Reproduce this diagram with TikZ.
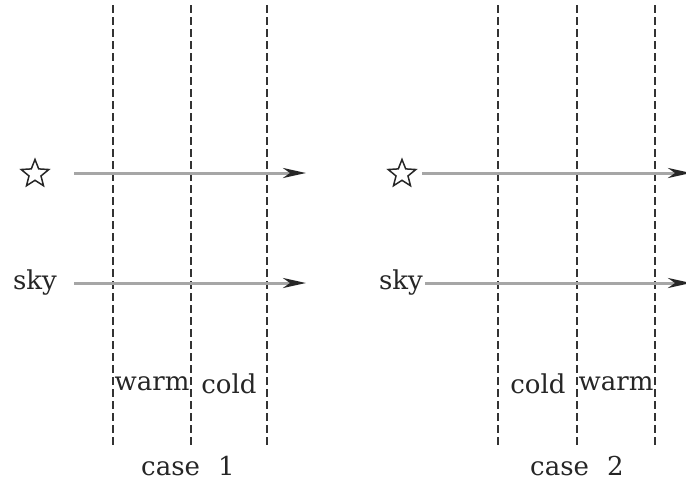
\documentclass[tikz,border=0pt]{standalone}
\usepackage{fontspec}
\setmainfont{DejaVu Serif}
\usetikzlibrary{arrows.meta,shapes.geometric}
\tikzset{
  divider/.style={draw=black!80, line width=1.8pt, dash pattern=on 8pt off 4pt},
  ray/.style={draw=black!35, line width=3pt, -{Stealth[length=23pt,width=10pt,inset=7pt,color=black!85]}},
  lbl/.style={font=\fontsize{26}{32}\selectfont, inner sep=0pt, text=black!85},
  starmark/.style={star, star points=5, star point ratio=2.3, draw=black!85, line width=1.5pt, minimum size=29pt, inner sep=0pt}
}
\begin{document}
\begin{tikzpicture}[x=1pt,y=-1pt]
\useasboundingbox (0,0) rectangle (686,485);
% case 1
\foreach \n/\x in {a/113,b/191,c/267}{
  \coordinate (t1\n) at (\x,5);
  \coordinate (b1\n) at (\x,447);
  \draw[divider] (t1\n) -- (b1\n);
}
\node[starmark] (star1) at (35,174) {};
\node[lbl] (sky1) at (35,283) {sky};
\coordinate (s1s) at (74,173);
\coordinate (s1e) at (306,173);
\coordinate (k1s) at (74,283);
\coordinate (k1e) at (306,283);
\draw[ray] (s1s) -- (s1e);
\draw[ray] (k1s) -- (k1e);
\node[lbl] (warm1) at (152,384) {warm};
\node[lbl] (cold1) at (229,384) {cold};
\node[lbl] (case1) at (188,466) {case\hspace{0.7em}1};
% case 2
\foreach \n/\x in {a/498,b/577,c/655}{
  \coordinate (t2\n) at (\x,5);
  \coordinate (b2\n) at (\x,447);
  \draw[divider] (t2\n) -- (b2\n);
}
\node[starmark] (star2) at (402,174) {};
\node[lbl] (sky2) at (401,283) {sky};
\coordinate (s2s) at (422,173);
\coordinate (s2e) at (691,173);
\coordinate (k2s) at (425,283);
\coordinate (k2e) at (691,283);
\draw[ray] (s2s) -- (s2e);
\draw[ray] (k2s) -- (k2e);
\node[lbl] (cold2) at (538,384) {cold};
\node[lbl] (warm2) at (616,384) {warm};
\node[lbl] (case2) at (577,466) {case\hspace{0.7em}2};
\end{tikzpicture}
\end{document}
